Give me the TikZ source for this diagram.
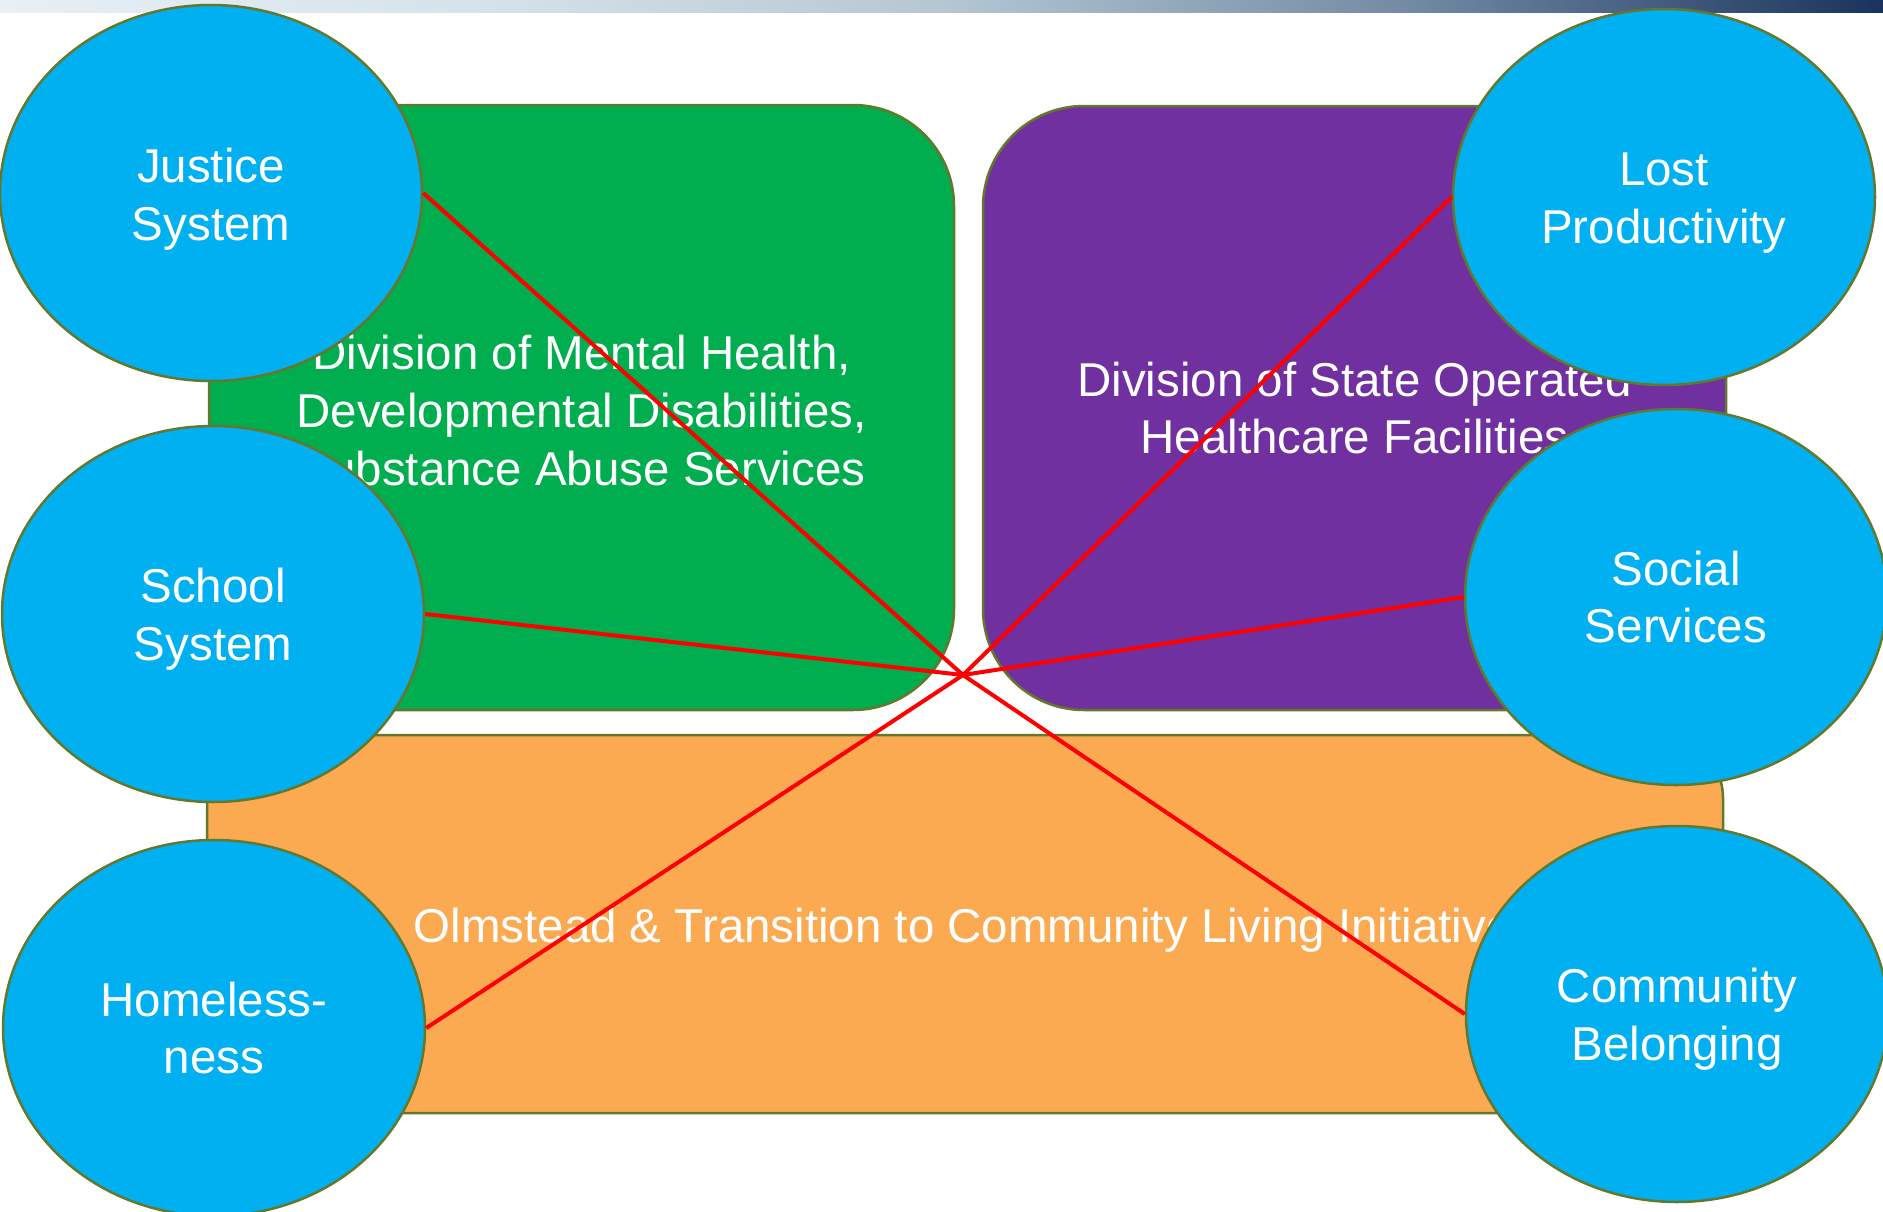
\documentclass[tikz,border=0pt]{standalone}
\usepackage{fontspec}
\setmainfont{Liberation Sans}
\usetikzlibrary{shapes.geometric}
\definecolor{boxgreen}{RGB}{0,173,79}
\definecolor{boxpurple}{RGB}{112,48,160}
\definecolor{boxorange}{RGB}{251,170,82}
\definecolor{ovalblue}{RGB}{0,176,240}
\definecolor{edgeolive}{RGB}{100,120,45}
\definecolor{linkred}{RGB}{255,0,0}
\pgfdeclarehorizontalshading{topbar}{100bp}{rgb(0bp)=(0.91,0.937,0.96); rgb(25bp)=(0.91,0.937,0.96); rgb(37.5bp)=(0.84,0.89,0.925); rgb(50bp)=(0.71,0.78,0.83); rgb(62.5bp)=(0.45,0.54,0.64); rgb(75bp)=(0.10,0.20,0.365); rgb(100bp)=(0.10,0.20,0.365)}
\begin{document}
\begin{tikzpicture}[x=1pt,y=-1pt,
  txt/.style={text=white, align=center, font=\fontsize{47.5}{57.6}\selectfont},
  bigbox/.style={rectangle, draw=edgeolive, line width=2.5pt, rounded corners=101pt, inner sep=0pt},
  oval/.style n args={2}{ellipse, draw=edgeolive, line width=2.5pt, fill=ovalblue, minimum width=422pt, minimum height=376pt, inner sep=0pt,
    label={[txt, yshift=#2]center:#1}},
  link/.style={draw=linkred, line width=4pt}]
\useasboundingbox (0,0) rectangle (1883,1211);
\fill[white] (0,0) rectangle (1883,1211);
\shade[shading=topbar] (0,0) rectangle (1883,12);

% boxes
\node[bigbox, fill=boxgreen, minimum width=745pt, minimum height=605pt,
  label={[txt, yshift=-3pt]center:Division of Mental Health,\\Developmental Disabilities,\\Substance Abuse Services}] (mh) at (581.5,407.5) {};
\node[bigbox, fill=boxpurple, minimum width=743pt, minimum height=604pt,
  label={[txt]center:Division of State Operated\\Healthcare Facilities}] (so) at (1354.5,408) {};
\node[bigbox, fill=boxorange, rounded corners=63pt, minimum width=1516pt, minimum height=378pt,
  label={[txt, xshift=10pt, yshift=-6pt]center:Olmstead \& Transition to Community Living Initiatives}] (ol) at (965,924) {};

% ovals
\node[oval={Justice\\System}{-6pt}] (jus) at (211,193) {};
\node[oval={School\\System}{-5pt}] (sch) at (213,614) {};
\node[oval={Homeless-\\ness}{0pt}] (hom) at (214,1028) {};
\node[oval={Lost\\Productivity}{-6pt}] (lost) at (1664,197) {};
\node[oval={Social\\Services}{0pt}] (soc) at (1676,597) {};
\node[oval={Community\\Belonging}{-5pt}] (com) at (1677,1014) {};

% links
\coordinate (hub) at (963,675);
\draw[link] (jus.east) -- (hub);
\draw[link] (sch.east) -- (hub);
\draw[link] (hom.east) -- (hub);
\draw[link] (lost.west) -- (hub);
\draw[link] (soc.west) -- (hub);
\draw[link] (com.west) -- (hub);
\end{tikzpicture}
\end{document}
